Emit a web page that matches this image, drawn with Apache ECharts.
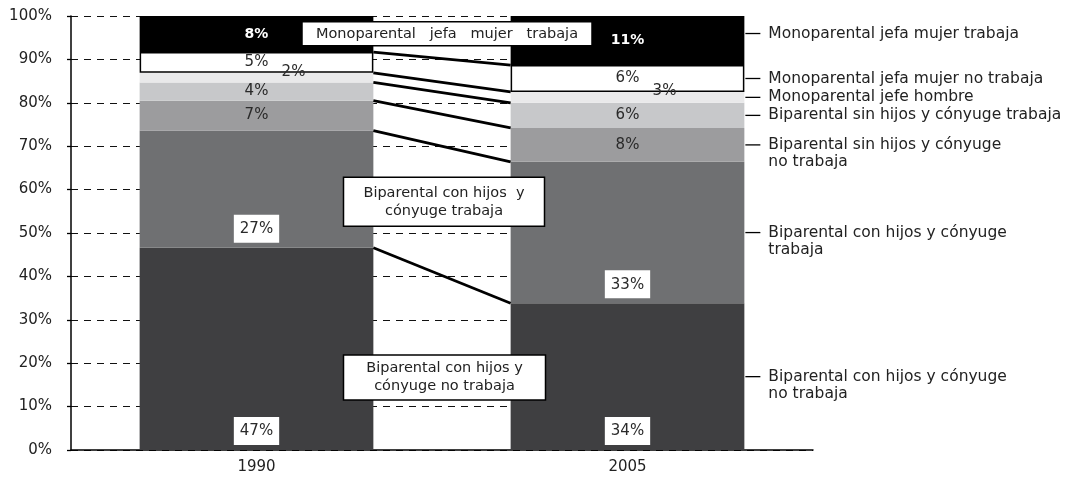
<!DOCTYPE html>
<html>
<head>
<meta charset="utf-8"/>
<title>Hogares 1990 - 2005</title>
<script src="https://cdn.jsdelivr.net/npm/echarts@6/dist/echarts.min.js"></script>
<style>
	html, body { margin: 0; padding: 0; background: #fff; }
	#chart { width: 1081px; height: 479px; }
</style>
</head>
<body>
<div id="chart"></div>
<script>
	// categories
	var years = ['1990', '2005'];
	var seriesNames = [
		'Biparental con hijos y cónyuge\nno trabaja',
		'Biparental con hijos y cónyuge\ntrabaja',
		'Biparental sin hijos y cónyuge\nno trabaja',
		'Biparental sin hijos y cónyuge trabaja',
		'Monoparental jefe hombre',
		'Monoparental jefa mujer no trabaja',
		'Monoparental jefa mujer trabaja'
	];
	// shares, bottom to top
	var conHijosNoTrabaja = [46.6, 33.8];
	var conHijosTrabaja = [27.0, 32.6];
	var sinHijosNoTrabaja = [6.9, 7.8];
	var sinHijosTrabaja = [4.2, 5.8];
	var jefeHombre = [2.2, 2.5];
	var jefaNoTrabaja = [4.8, 6.2];
	var jefaTrabaja = [8.3, 11.3];
	// percentages printed on the bars
	var printed1990 = ['47%', '27%', '7%', '4%', '2%', '5%', '8%'];
	var printed2005 = ['34%', '33%', '8%', '6%', '3%', '6%', '11%'];
	// callout texts in the gap between the bars
	var noteTexts = [
		'Monoparental   jefa   mujer   trabaja',
		'Biparental con hijos  y\ncónyuge trabaja',
		'Biparental con hijos y\ncónyuge no trabaja'
	];

	var stackData = [conHijosNoTrabaja, conHijosTrabaja, sinHijosNoTrabaja, sinHijosTrabaja, jefeHombre, jefaNoTrabaja, jefaTrabaja];
	var printed = [printed1990, printed2005];

	var FONT = '"DejaVu Sans", "Liberation Sans", Arial, sans-serif';
	var colors = ['#3f3f41', '#6f7072', '#9c9c9e', '#c7c8ca', '#e9e9ea', '#ffffff', '#000000'];
	var BAR = 0.63;
	var labelNudge = [0, 0, 0, 0, 0, 0, -7];
	// box placement: vertical centre on the value axis, x shift, size
	var noteBoxes = [
		{ at: 95.9, dx: 5, w: 290, h: 24 },
		{ at: 57.2, dx: 2, w: 201, h: 49 },
		{ at: 16.7, dx: 2.5, w: 202, h: 45 }
	];

	function labelFor(i) {
		var base = {
			show: true,
			position: 'inside',
			color: '#2a2a2a',
			fontSize: 15,
			fontFamily: FONT,
			formatter: function (p) { return printed[p.dataIndex][i]; }
		};
		if (i < 2) {
			base.position = 'insideBottom';
			base.distance = 5;
			base.backgroundColor = '#fff';
			base.padding = [7, 6, 6, 6];
		} else if (i == 4) {
			base.offset = [37, -6];
		} else if (i == 6) {
			base.color = '#fff';
			base.fontWeight = 'bold';
			base.fontSize = 14;
		}
		return base;
	}

	var series = [];
	stackData.forEach(function (vals, i) {
		series.push({
			name: seriesNames[i],
			type: 'bar',
			stack: 'total',
			barWidth: (BAR * 100) + '%',
			silent: true,
			itemStyle: {
				color: colors[i],
				borderColor: i == 5 ? '#000' : colors[i],
				borderWidth: i == 5 ? 1.5 : 0
			},
			label: labelFor(i),
			data: vals
		});
	});

	// series lines between the bars, right hand labels, callouts
	function renderOverlay(params, api) {
		var cs = params.coordSys;
		var half = api.size([1, 0])[0] * BAR / 2;
		var xa = api.coord([0, 0])[0] + half;
		var xb = api.coord([1, 0])[0] - half;
		var xc = api.coord([1, 0])[0] + half;
		var xMid = (api.coord([0, 0])[0] + api.coord([1, 0])[0]) / 2;
		var kids = [];
		// no grid lines right of the 2005 bar
		kids.push({
			type: 'rect',
			shape: { x: xc + 1, y: cs.y - 2, width: cs.x + cs.width - xc, height: cs.height + 1 },
			style: { fill: '#fff' }
		});
		var c0 = 0, c1 = 0;
		for (var i = 0; i < stackData.length - 1; i++) {
			c0 += stackData[i][0];
			c1 += stackData[i][1];
			kids.push({
				type: 'line',
				shape: { x1: xa, y1: api.coord([0, c0])[1], x2: xb, y2: api.coord([1, c1])[1] },
				style: { stroke: '#000', lineWidth: 2.8 }
			});
		}
		var acc = 0;
		for (var j = 0; j < stackData.length; j++) {
			var mid = acc + stackData[j][1] / 2;
			acc += stackData[j][1];
			var y = api.coord([1, mid])[1] + labelNudge[j];
			kids.push({
				type: 'line',
				shape: { x1: xc + 1, y1: y, x2: xc + 16, y2: y },
				style: { stroke: '#000', lineWidth: 1.3 }
			});
			kids.push({
				type: 'text',
				x: xc + 24,
				y: y - 8.5,
				style: {
					text: seriesNames[j],
					fill: '#222',
					font: '15.5px ' + FONT,
					lineHeight: 17,
					verticalAlign: 'top'
				}
			});
		}
		noteBoxes.forEach(function (n, k) {
			var cx = xMid + n.dx;
			var cy = api.coord([0, n.at])[1];
			kids.push({
				type: 'rect',
				shape: { x: cx - n.w / 2, y: cy - n.h / 2, width: n.w, height: n.h },
				style: { fill: '#fff', stroke: '#000', lineWidth: 1.5 }
			});
			kids.push({
				type: 'text',
				x: cx,
				y: cy,
				style: {
					text: noteTexts[k],
					fill: '#222',
					font: '14.5px ' + FONT,
					lineHeight: 18,
					align: 'center',
					verticalAlign: 'middle'
				}
			});
		});
		return { type: 'group', children: kids };
	}

	series.push({
		type: 'custom',
		silent: true,
		z: 5,
		renderItem: renderOverlay,
		encode: { x: 0, y: 1 },
		data: [[0, 0]]
	});

	var option = {
		backgroundColor: '#fff',
		animation: false,
		grid: { left: 71, right: 268, top: 16, bottom: 29, outerBoundsMode: 'none' },
		xAxis: {
			type: 'category',
			data: years,
			axisLine: { lineStyle: { color: '#000', width: 1.5 } },
			axisTick: { length: 6, lineStyle: { color: '#000', width: 1.3 } },
			axisLabel: { margin: 10, color: '#222', fontSize: 15, fontFamily: FONT },
			splitLine: { show: false }
		},
		yAxis: {
			type: 'value',
			min: 0,
			max: 100,
			interval: 10,
			axisLine: { show: true, lineStyle: { color: '#000', width: 1.5 } },
			axisTick: { show: true, length: 4, lineStyle: { color: '#000', width: 1.3 } },
			axisLabel: { formatter: '{value}%', margin: 19, color: '#222', fontSize: 15, fontFamily: FONT },
			splitLine: { show: true, lineStyle: { color: '#111', width: 1.2, type: [7, 6] } }
		},
		series: series
	};

	var chart = echarts.init(document.getElementById('chart'), null, { renderer: 'canvas' });
	chart.setOption(option);
</script>
</body>
</html>
